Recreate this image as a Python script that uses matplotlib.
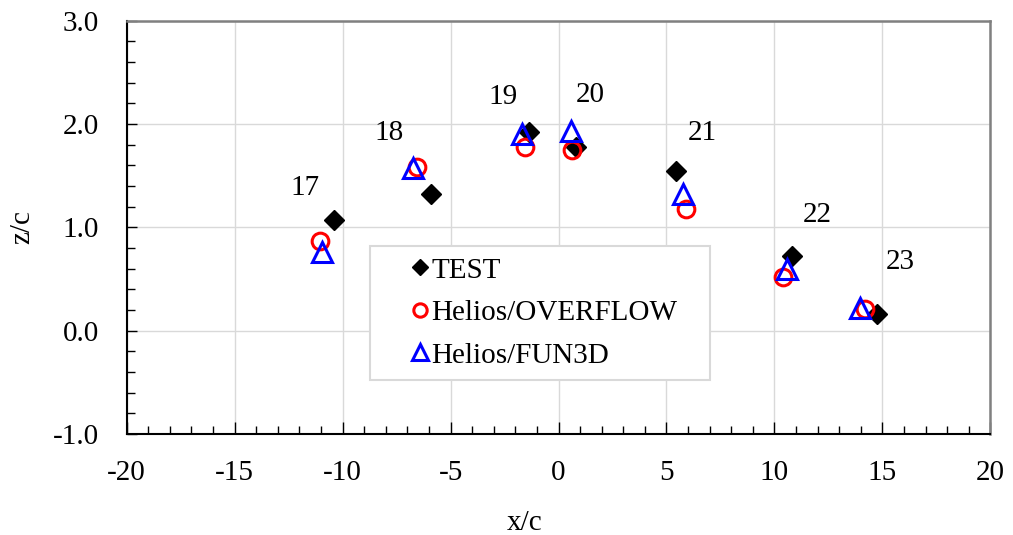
import matplotlib
matplotlib.use("Agg")
import matplotlib.pyplot as plt
from matplotlib.ticker import MultipleLocator, FormatStrFormatter

plt.rcParams['font.family'] = ['Liberation Serif', 'DejaVu Serif']
plt.rcParams['axes.unicode_minus'] = False

# Data
case_labels = ['17', '18', '19', '20', '21', '22', '23']
test_x = [-10.4, -5.9, -1.35, 0.8, 5.45, 10.8, 14.75]
test_z = [1.07, 1.32, 1.92, 1.78, 1.55, 0.72, 0.16]
overflow_x = [-11.05, -6.55, -1.56, 0.63, 5.9, 10.38, 14.21]
overflow_z = [0.87, 1.58, 1.78, 1.75, 1.18, 0.52, 0.21]
fun3d_x = [-10.94, -6.74, -1.71, 0.57, 5.75, 10.57, 13.96]
fun3d_z = [0.76, 1.57, 1.90, 1.93, 1.32, 0.60, 0.22]
# where the case numbers sit
label_x = [-11.75, -7.85, -2.58, 1.45, 6.65, 11.98, 15.82]
label_z = [1.38, 1.91, 2.26, 2.28, 1.91, 1.12, 0.66]

fs = 21

fig = plt.figure(figsize=(10.13, 5.35), dpi=100)
ax = fig.add_axes([0.1251, 0.1888, 0.8525, 0.7725])

ax.plot(test_x, test_z, 'D', color='black', markersize=10, label='TEST', zorder=3)
ax.plot(overflow_x, overflow_z, 'o', markerfacecolor='none', markeredgecolor='red',
        markeredgewidth=2.2, markersize=12, label='Helios/OVERFLOW', zorder=4)
ax.plot(fun3d_x, fun3d_z, '^', markerfacecolor='none', markeredgecolor='blue',
        markeredgewidth=2.2, markersize=14, label='Helios/FUN3D', zorder=5)

for lab, lx, lz in zip(case_labels, label_x, label_z):
    ax.text(lx, lz, lab, fontsize=fs, ha='center', va='center')

ax.set_xlim(-20, 20)
ax.set_ylim(-1.0, 3.0)
ax.xaxis.set_major_locator(MultipleLocator(5))
ax.xaxis.set_minor_locator(MultipleLocator(1))
ax.yaxis.set_major_locator(MultipleLocator(1))
ax.yaxis.set_minor_locator(MultipleLocator(0.2))
ax.yaxis.set_major_formatter(FormatStrFormatter('%.1f'))

ax.grid(True, which='major', color='#d9d9d9', linewidth=1)
ax.set_axisbelow(True)
ax.tick_params(which='both', direction='in', top=False, right=False, labelsize=fs, width=1)
ax.tick_params(which='major', length=9)
ax.tick_params(which='minor', length=6)
ax.tick_params(axis='y', which='major', pad=20, length=7)
ax.tick_params(axis='x', which='major', pad=19)

for s in ['left', 'bottom']:
    ax.spines[s].set_color('black')
    ax.spines[s].set_linewidth(1.5)
for s in ['top', 'right']:
    ax.spines[s].set_color('#808080')
    ax.spines[s].set_linewidth(1.8)

ax.set_xlabel('x/c', fontsize=fs)
ax.set_ylabel('z/c', fontsize=fs)
ax.xaxis.set_label_coords(0.461, -0.185)
ax.yaxis.set_label_coords(-0.106, 0.5)

leg = ax.legend(loc='lower left', bbox_to_anchor=(0.282, 0.13, 0.393, 0.33),
                mode='expand', borderaxespad=0,
                fontsize=fs, frameon=True, fancybox=False, handletextpad=-0.9,
                handlelength=2.6, borderpad=0.4, labelspacing=0.55, markerscale=0.8)
leg.get_frame().set_edgecolor('#d9d9d9')
leg.get_frame().set_linewidth(1.5)
leg.get_frame().set_alpha(1)

fig.savefig('out.png', dpi=100)
